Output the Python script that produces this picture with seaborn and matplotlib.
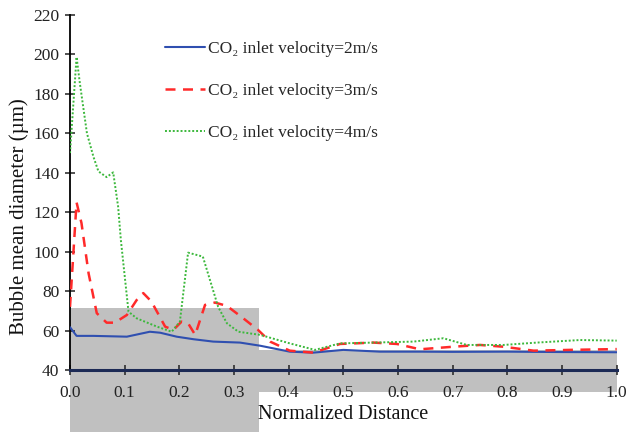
import matplotlib
matplotlib.use("Agg")
import matplotlib.pyplot as plt
from matplotlib.patches import Rectangle
import seaborn as sns
import numpy as np

# ---- data ----
x_2 = [0.0, 0.012, 0.043, 0.104, 0.146, 0.165, 0.195, 0.226, 0.262, 0.311, 0.348,
       0.402, 0.445, 0.5, 0.567, 0.64, 0.7, 0.8, 0.9, 1.0]
y_2 = [61.7, 57.3, 57.3, 56.9, 59.4, 58.9, 56.9, 55.6, 54.4, 53.9, 52.3,
       49.3, 48.8, 50.2, 49.3, 49.3, 49.2, 49.3, 49.1, 49.0]

x_3 = [0.0, 0.012, 0.021, 0.034, 0.049, 0.067, 0.082, 0.104, 0.122, 0.134, 0.149,
       0.174, 0.189, 0.204, 0.216, 0.229, 0.247, 0.265, 0.287, 0.317, 0.344, 0.366,
       0.402, 0.445, 0.494, 0.555, 0.598, 0.64, 0.701, 0.75, 0.793, 0.848, 0.915, 1.0]
y_3 = [72, 125, 114.5, 89, 68.8, 64, 64, 67.9, 75.5, 79, 74.7,
       62, 60.3, 64.5, 63.7, 57.8, 73, 74.2, 72.5, 66.2, 60.3, 54.4,
       49.8, 48.8, 53.2, 53.9, 53.2, 50.5, 51.8, 52.7, 51.8, 49.8, 50.2, 50.6]

x_4 = [0.0, 0.012, 0.018, 0.031, 0.043, 0.052, 0.067, 0.079, 0.088, 0.093, 0.107,
       0.122, 0.159, 0.186, 0.201, 0.216, 0.243, 0.271, 0.287, 0.308, 0.348, 0.402,
       0.448, 0.494, 0.555, 0.628, 0.683, 0.726, 0.793, 0.854, 0.933, 1.0]
y_4 = [150, 198.7, 185.5, 160, 148, 140.7, 137.8, 140.2, 122.9, 106, 69.6,
       66.2, 62, 59.4, 64.5, 99.5, 97.5, 72, 63.7, 59.4, 57.8, 53.5,
       50.2, 53.5, 53.9, 54.4, 56.1, 52.7, 52.7, 53.9, 55.2, 54.9]

labels = ["CO\u2082 inlet velocity=2m/s", "CO\u2082 inlet velocity=3m/s", "CO\u2082 inlet velocity=4m/s"]
y_ticks = [40, 60, 80, 100, 120, 140, 160, 180, 200, 220]
x_ticks = [0.0, 0.1, 0.2, 0.3, 0.4, 0.5, 0.6, 0.7, 0.8, 0.9, 1.0]

sns.set_style("white")
plt.rcParams["font.family"] = ["Liberation Serif", "DejaVu Serif"]

fig = plt.figure(figsize=(6.27, 4.32), dpi=100)
ax = fig.add_axes([70 / 627, 62 / 432, (616.7 - 70) / 627, (370 - 15) / 432])
ax.set_facecolor("none")

sns.lineplot(x=x_2, y=y_2, ax=ax, color="#2f4fb0", lw=1.5, label=labels[0], zorder=3)
sns.lineplot(x=x_3, y=y_3, ax=ax, color="#ff2a2a", lw=1.8, linestyle=(0, (4, 3)),
             label=labels[1], zorder=3)
sns.lineplot(x=x_4, y=y_4, ax=ax, color="#3cb83c", lw=1.4, linestyle=(0, (1, 1)),
             label=labels[2], zorder=3)

# grey mask areas as in the reference
ax.add_patch(Rectangle((0.0, 8.0), 0.346, 71.6 - 8.0, facecolor="#c0c0c0",
                       edgecolor="none", clip_on=False, zorder=0))
ax.add_patch(Rectangle((0.346, 28.6), 1.0 - 0.346, 50.0 - 28.6, facecolor="#c0c0c0",
                       edgecolor="none", clip_on=False, zorder=0))

ax.set_xlim(0, 1.0)
ax.set_ylim(40, 220)
ax.set_xticks(x_ticks)
ax.set_xticklabels([f"{v:.1f}" for v in x_ticks])
ax.set_yticks(y_ticks)

for s in ["top", "right"]:
    ax.spines[s].set_visible(False)
ax.spines["left"].set_color("black")
ax.spines["left"].set_linewidth(1.3)
ax.spines["bottom"].set_color("#1c2a55")
ax.spines["bottom"].set_linewidth(2.2)

ax.tick_params(axis="both", direction="inout", length=7.5, width=1.1, color="#222222",
               labelsize=12.5, labelcolor="#222222", bottom=True, left=True)
ax.tick_params(axis="y", pad=4)
ax.tick_params(axis="x", pad=7)

ax.set_xlabel("Normalized Distance", fontsize=14.5, color="#111111")
ax.xaxis.set_label_coords(0.5, -(405 - 370) / 355)
ax.set_ylabel("Bubble mean diameter (\u00b5m)", fontsize=15, color="#111111")
ax.yaxis.set_label_coords((29 - 70) / 546.7, (370 - 217) / 355)

leg = ax.legend(loc="upper left", bbox_to_anchor=(0.145, 0.972), frameon=False,
                fontsize=12.5, handlelength=2.3, handletextpad=0.2, labelspacing=1.5)

fig.savefig("out.png", dpi=100)
